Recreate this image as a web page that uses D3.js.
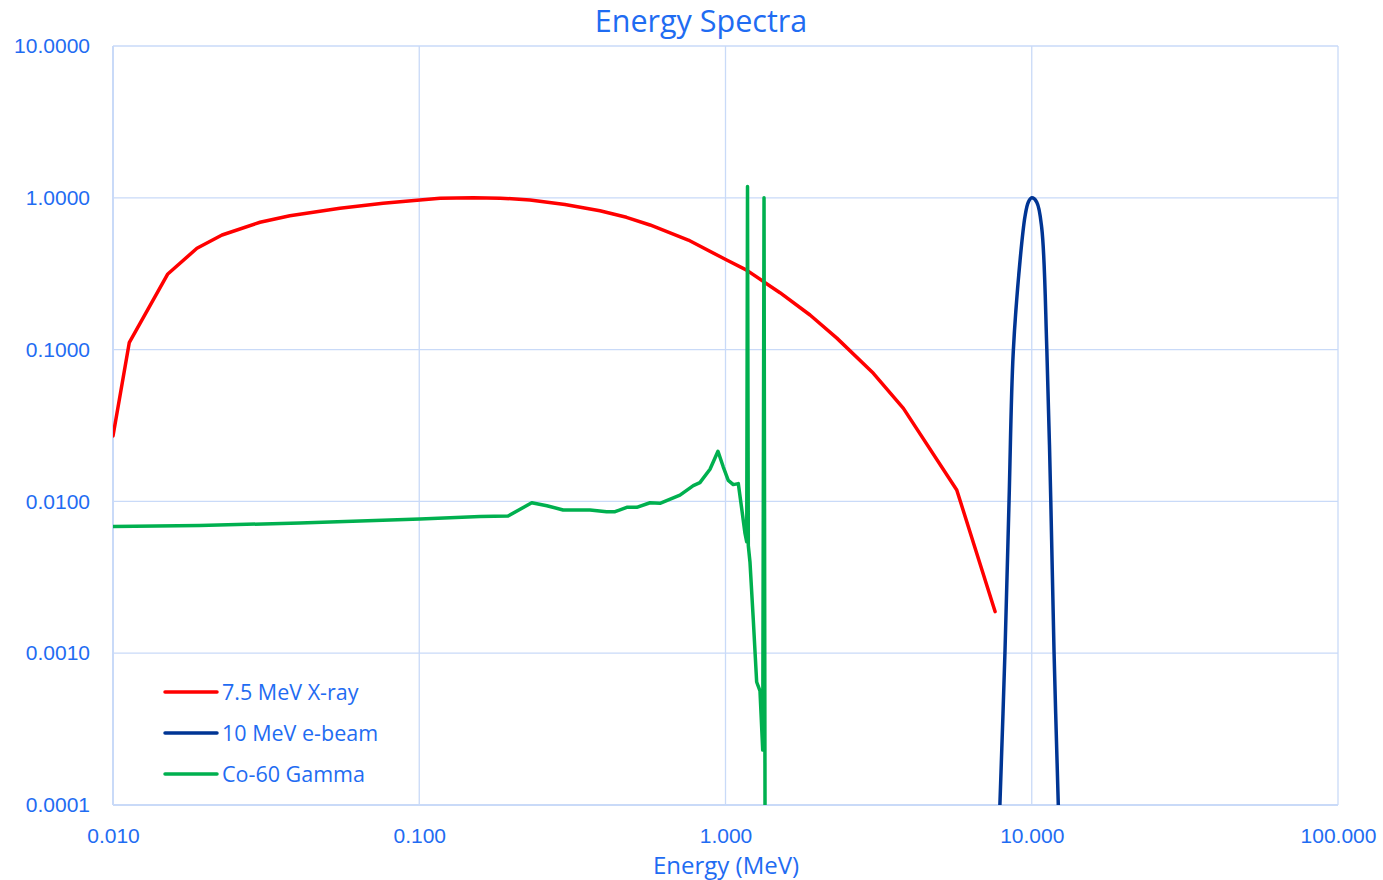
<!DOCTYPE html>
<html>
<head>
<meta charset="utf-8">
<script src="https://cdn.jsdelivr.net/npm/d3@7"></script>
<style>
  body { margin: 0; background: #fff; }
  svg { font-family: "Open Sans", "Lato", sans-serif; }
  .tick text { fill: #1f6cf2; font-family: "Liberation Sans", Arial, sans-serif; }
</style>
</head>
<body>
<div id="chart"></div>
<script>
// tick values
const xTicks = [0.01, 0.1, 1, 10, 100]
const yTicks = [0.0001, 0.001, 0.01, 0.1, 1, 10]

// 7.5 MeV X-ray
const xrayEnergy = [0.0100, 0.0113, 0.0151, 0.0188, 0.0227, 0.0302, 0.0378, 0.0551, 0.0762, 0.1005, 0.117, 0.150, 0.184, 0.230, 0.299, 0.389, 0.475, 0.567, 0.756, 1.009, 1.172, 1.506, 1.888, 2.31, 3.04, 3.81, 5.69, 7.59]
const xrayValue = [0.027, 0.111, 0.315, 0.465, 0.569, 0.690, 0.762, 0.853, 0.920, 0.967, 0.993, 1.000, 0.995, 0.967, 0.903, 0.822, 0.744, 0.662, 0.527, 0.389, 0.334, 0.237, 0.169, 0.119, 0.0698, 0.041, 0.0119, 0.00188]

// 10 MeV e-beam
const ebeamEnergy = [7.87, 8.18, 8.43, 8.70, 9.16, 9.51, 9.75, 10.0, 10.38, 10.78, 11.2, 11.54, 11.82, 12.21]
const ebeamValue = [0.0001, 0.00105, 0.0100, 0.0955, 0.388, 0.759, 0.938, 1.0, 0.938, 0.633, 0.101, 0.0100, 0.00105, 0.0001]

// Co-60 Gamma
const gammaEnergy = [0.0100, 0.0192, 0.0408, 0.1006, 0.158, 0.195, 0.233, 0.261, 0.295, 0.361, 0.409, 0.436, 0.476, 0.513, 0.567, 0.611, 0.710, 0.785, 0.825, 0.890, 0.945, 0.983, 1.021, 1.060, 1.101, 1.130, 1.158, 1.173, 1.180, 1.187, 1.202, 1.232, 1.264, 1.296, 1.323, 1.336, 1.346]
const gammaValue = [0.00684, 0.00693, 0.00721, 0.00766, 0.00794, 0.00801, 0.00980, 0.00937, 0.00878, 0.00878, 0.00855, 0.00855, 0.00914, 0.00914, 0.00980, 0.00972, 0.0110, 0.0127, 0.0133, 0.0163, 0.0214, 0.0169, 0.01375, 0.0129, 0.0131, 0.00891, 0.00615, 0.00542, 1.186, 0.00511, 0.00399, 0.00168, 0.000646, 0.000564, 0.00023, 1.0, 0.0001]

const seriesNames = ["7.5 MeV X-ray", "10 MeV e-beam", "Co-60 Gamma"]
const seriesColors = ["#ff0000", "#003594", "#00b04f"]

const width = 1383, height = 880
const margin = {top: 46, right: 45, bottom: 75, left: 113}
const textColor = "#1f6cf2"

const svg = d3.select("#chart").append("svg")
  .attr("width", width)
  .attr("height", height)

const x = d3.scaleLog()
  .domain([0.01, 100])
  .range([margin.left, width - margin.right])

const y = d3.scaleLog()
  .domain([0.0001, 10])
  .range([height - margin.bottom, margin.top])

// grid
svg.append("g")
  .selectAll("line")
  .data(xTicks)
  .join("line")
    .attr("x1", d => x(d)).attr("x2", d => x(d))
    .attr("y1", y.range()[0]).attr("y2", y.range()[1])
    .attr("stroke", "#c9daf8")
    .attr("stroke-width", d => d === 0.01 ? 2 : 1.3)

svg.append("g")
  .selectAll("line")
  .data(yTicks)
  .join("line")
    .attr("x1", x.range()[0]).attr("x2", x.range()[1])
    .attr("y1", d => y(d)).attr("y2", d => y(d))
    .attr("stroke", "#c9daf8")
    .attr("stroke-width", d => d === 0.0001 ? 2 : 1.3)

// axes labels
const xAxis = svg.append("g")
  .attr("transform", `translate(0,${y.range()[0]})`)
  .call(d3.axisBottom(x).tickValues(xTicks).tickFormat(d3.format(".3f")).tickSize(0).tickPadding(23))
xAxis.select(".domain").remove()
xAxis.selectAll("text").style("font-size", "21px")

const yAxis = svg.append("g")
  .attr("transform", `translate(${x.range()[0]},0)`)
  .call(d3.axisLeft(y).tickValues(yTicks).tickFormat(d3.format(".4f")).tickSize(0).tickPadding(23))
yAxis.select(".domain").remove()
yAxis.selectAll("text").style("font-size", "21px")

// title
svg.append("text")
  .attr("x", 701)
  .attr("y", 32)
  .attr("text-anchor", "middle")
  .attr("fill", textColor)
  .style("font-size", "30.5px")
  .text("Energy Spectra")

svg.append("text")
  .attr("x", 726)
  .attr("y", 874)
  .attr("text-anchor", "middle")
  .attr("fill", textColor)
  .style("font-size", "24px")
  .text("Energy (MeV)")

// lines
svg.append("clipPath").attr("id", "plot-clip")
  .append("rect")
    .attr("x", x.range()[0]).attr("y", y.range()[1] - 20)
    .attr("width", x.range()[1] - x.range()[0])
    .attr("height", y.range()[0] - y.range()[1] + 20)

const line = d3.line()
  .x(d => x(d[0]))
  .y(d => y(d[1]))

const xrayData = d3.zip(xrayEnergy, xrayValue)
const ebeamData = d3.zip(ebeamEnergy, ebeamValue)
const gammaData = d3.zip(gammaEnergy, gammaValue)

const plot = svg.append("g").attr("clip-path", "url(#plot-clip)")

plot.append("path")
  .datum(xrayData)
  .attr("d", line)
  .attr("fill", "none")
  .attr("stroke", seriesColors[0])
  .attr("stroke-width", 3.5)
  .attr("stroke-linejoin", "round")
  .attr("stroke-linecap", "round")

plot.append("path")
  .datum(ebeamData)
  .attr("d", line.curve(d3.curveCatmullRom.alpha(0.5)))
  .attr("fill", "none")
  .attr("stroke", seriesColors[1])
  .attr("stroke-width", 3.5)
  .attr("stroke-linejoin", "round")

plot.append("path")
  .datum(gammaData)
  .attr("d", line.curve(d3.curveLinear))
  .attr("fill", "none")
  .attr("stroke", seriesColors[2])
  .attr("stroke-width", 3.5)
  .attr("stroke-linejoin", "round")
  .attr("stroke-linecap", "round")

// legend
const legend = svg.append("g")
  .selectAll("g")
  .data(seriesNames)
  .join("g")
    .attr("transform", (d, i) => `translate(165,${692 + i * 41})`)

legend.append("line")
  .attr("x1", 0).attr("x2", 52)
  .attr("stroke", (d, i) => seriesColors[i])
  .attr("stroke-width", 3.5)
  .attr("stroke-linecap", "round")

legend.append("text")
  .attr("x", 57)
  .attr("dy", "0.35em")
  .attr("fill", textColor)
  .style("font-size", "21.5px")
  .text(d => d)
</script>
</body>
</html>
